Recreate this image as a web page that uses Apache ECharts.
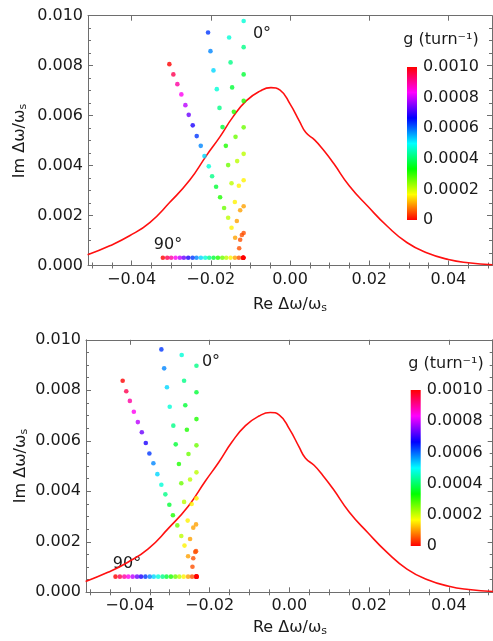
<!DOCTYPE html>
<html><head><meta charset="utf-8">
<script src="https://cdn.jsdelivr.net/npm/echarts@6/dist/echarts.min.js"></script>
<style>html,body{margin:0;padding:0;background:#fff}#c{width:493px;height:641px}</style>
</head><body><div id="c"></div>
<script>
// coupling strength g (turn^-1) of successive points of every series
const gSteps = [0, 0.0000526, 0.0001053, 0.0001579, 0.0002105, 0.0002632, 0.0003158, 0.0003684, 0.0004211, 0.0004737,
  0.0005263, 0.0005789, 0.0006316, 0.0006842, 0.0007368, 0.0007895, 0.0008421, 0.0008947, 0.0009474, 0.0010];

// top panel: [Re, Im] of each point
const topDeg0 = [[-0.0118,0.00031],[-0.0117,0.00130],[-0.0117,0.00237],[-0.0117,0.00341],[-0.0117,0.00447],
  [-0.0117,0.00553],[-0.0117,0.00659],[-0.0117,0.00765],[-0.0117,0.00874],[-0.0117,0.00979]];
const topDegB = [[-0.0118,0.00031],[-0.01215,0.00122],[-0.01258,0.00221],[-0.01291,0.00319],[-0.01334,0.00418],
  [-0.01375,0.00515],[-0.01418,0.00615],[-0.01461,0.00713],[-0.01501,0.00813],[-0.01537,0.00913]];
const topDegC = [[-0.0118,0.00031],[-0.01258,0.00103],[-0.01342,0.00178],[-0.01392,0.00254],[-0.01476,0.00329],
  [-0.01562,0.00402],[-0.01620,0.00479],[-0.01704,0.00554],[-0.01780,0.00631],[-0.01848,0.00706],
  [-0.01932,0.00781],[-0.02008,0.00858],[-0.02069,0.00933]];
const topDegD = [[-0.0118,0.00031],[-0.01283,0.00069],[-0.01385,0.00111],[-0.01476,0.00151],[-0.01562,0.00191],
  [-0.01664,0.00230],[-0.01765,0.00273],[-0.01866,0.00315],[-0.01967,0.00357],[-0.02051,0.00397],
  [-0.02160,0.00438],[-0.02253,0.00479],[-0.02355,0.00518],[-0.02456,0.00561],[-0.02557,0.00603],
  [-0.02641,0.00642],[-0.02743,0.00685],[-0.02844,0.00726],[-0.02945,0.00765],[-0.03046,0.00806]];
const topDeg90 = [[-0.0118,0.00031],[-0.0129,0.00031],[-0.0139,0.00031],[-0.0150,0.00031],[-0.0161,0.00031],
  [-0.0171,0.00031],[-0.0182,0.00031],[-0.0193,0.00031],[-0.0204,0.00031],[-0.0214,0.00031],
  [-0.0225,0.00031],[-0.0236,0.00031],[-0.0246,0.00031],[-0.0257,0.00031],[-0.0268,0.00031],
  [-0.0278,0.00031],[-0.0289,0.00031],[-0.0300,0.00031],[-0.0310,0.00031],[-0.0321,0.00031]];

// bottom panel
const botDeg0 = [[-0.0233,0.00062],[-0.0234,0.00163],[-0.0234,0.00269],[-0.0233,0.00372],[-0.0233,0.00475],
  [-0.0233,0.00582],[-0.0233,0.00686],[-0.0233,0.00792],[-0.0233,0.00897]];
const botDegB = [[-0.0233,0.00062],[-0.0236,0.00160],[-0.0241,0.00256],[-0.0245,0.00350],[-0.0249,0.00447],
  [-0.0253,0.00548],[-0.0257,0.00644],[-0.0261,0.00741],[-0.0264,0.00838],[-0.0270,0.00940]];
const botDegC = [[-0.0233,0.00062],[-0.0241,0.00135],[-0.0249,0.00211],[-0.0255,0.00284],[-0.0264,0.00358],
  [-0.0271,0.00432],[-0.0277,0.00508],[-0.0285,0.00586],[-0.0291,0.00660],[-0.0300,0.00735],
  [-0.0307,0.00812],[-0.0314,0.00887],[-0.0321,0.00962]];
const botDegD = [[-0.0233,0.00062],[-0.0243,0.00101],[-0.0254,0.00143],[-0.0263,0.00185],[-0.0271,0.00223],
  [-0.0281,0.00265],[-0.0292,0.00305],[-0.0301,0.00347],[-0.0311,0.00388],[-0.0321,0.00426],
  [-0.0331,0.00468],[-0.0341,0.00511],[-0.0351,0.00550],[-0.0360,0.00591],[-0.0370,0.00634],
  [-0.0380,0.00674],[-0.0390,0.00715],[-0.0400,0.00758],[-0.0409,0.00796],[-0.0418,0.00838]];
const botDeg90 = [[-0.0233,0.00062],[-0.0244,0.00062],[-0.0254,0.00062],[-0.0265,0.00062],[-0.0276,0.00062],
  [-0.0286,0.00062],[-0.0297,0.00062],[-0.0308,0.00062],[-0.0318,0.00062],[-0.0329,0.00062],
  [-0.0340,0.00062],[-0.0350,0.00062],[-0.0361,0.00062],[-0.0372,0.00062],[-0.0382,0.00062],
  [-0.0393,0.00062],[-0.0404,0.00062],[-0.0414,0.00062],[-0.0425,0.00062],[-0.0436,0.00062]];

// red threshold curve (same in both panels)
const curveRe = [-0.0511,-0.0455,-0.0405,-0.0354,-0.0304,-0.0253,-0.0211,-0.0177,-0.0144,-0.0110,-0.0076,-0.0048,-0.0025,
  0.0000,0.0024,0.0040,0.0062,0.0084,0.0110,0.0150,0.0197,0.0245,0.0295,0.0345,0.0400,0.0450,0.0511];
const curveIm = [0.00043,0.00079,0.00119,0.00172,0.00252,0.00342,0.00440,0.00515,0.00595,0.00660,0.00698,0.00712,0.00702,
  0.00647,0.00577,0.00532,0.00503,0.00463,0.00409,0.00318,0.00236,0.00158,0.00092,0.00051,0.00024,0.00011,0.00003];

const xMajorTicks = [-0.04,-0.02,0,0.02,0.04];
const xMinorTicks = [-0.05,-0.045,-0.035,-0.03,-0.025,-0.015,-0.01,-0.005,0.005,0.01,0.015,0.025,0.03,0.035,0.045,0.05];
const hueColors = ['#ff0000','#ffff00','#00ff00','#00ffff','#0000ff','#ff00ff','#ff0000'];

const FONT = 'DejaVu Sans';
const TXT = '#1a1a1a';
const FRAME = '#6e6e6e';

const panels = [
  {grid:{left:88, top:15.7, width:404, height:249.8}, cbar:{left:407, top:67, width:10, height:153},
   pts:[topDeg0, topDegB, topDegC, topDegD, topDeg90]},
  {grid:{left:86, top:339.8, width:406.7, height:252.5}, cbar:{left:410.7, top:390, width:10, height:156},
   pts:[botDeg0, botDegB, botDegC, botDegD, botDeg90]}
];

const grids = [], xAxes = [], yAxes = [], series = [], scatterIdx = [];
const xFmt = v => { const s = Math.abs(v).toFixed(2); return v < -1e-9 ? '\u2212' + s : s; };

panels.forEach(p => grids.push(Object.assign({outerBoundsMode:'none', containLabel:false}, p.grid)));
panels.forEach(p => grids.push(Object.assign({outerBoundsMode:'none', containLabel:false}, p.cbar)));

panels.forEach((p, i) => {
  const base = {gridIndex:i, type:'value', min:-0.051, max:0.051, splitLine:{show:false}};
  xAxes.push(Object.assign({}, base, {position:'bottom',
    axisLine:{show:true, onZero:false, lineStyle:{color:FRAME, width:1}},
    axisTick:{show:true, inside:true, length:5, customValues:xMajorTicks, lineStyle:{color:FRAME}},
    axisLabel:{show:true, customValues:xMajorTicks, formatter:xFmt, margin:6, fontSize:16, color:TXT, fontFamily:FONT}}));
  xAxes.push(Object.assign({}, base, {position:'bottom',
    axisLine:{show:false}, axisLabel:{show:false},
    axisTick:{show:true, inside:true, length:3, customValues:xMinorTicks, lineStyle:{color:FRAME}}}));
  xAxes.push(Object.assign({}, base, {position:'top',
    axisLine:{show:true, onZero:false, lineStyle:{color:FRAME, width:1}}, axisLabel:{show:false},
    axisTick:{show:true, inside:true, length:5, customValues:xMajorTicks, lineStyle:{color:FRAME}}}));
  xAxes.push(Object.assign({}, base, {position:'top',
    axisLine:{show:false}, axisLabel:{show:false},
    axisTick:{show:true, inside:true, length:3, customValues:xMinorTicks, lineStyle:{color:FRAME}}}));

  const ybase = {gridIndex:i, type:'value', min:0, max:0.01, interval:0.002, splitLine:{show:false},
    axisLine:{show:true, onZero:false, lineStyle:{color:FRAME, width:1}},
    axisTick:{show:true, inside:true, length:5, lineStyle:{color:FRAME}},
    minorTick:{show:true, splitNumber:4, length:3, lineStyle:{color:FRAME}}, minorSplitLine:{show:false}};
  yAxes.push(Object.assign({}, ybase, {position:'left',
    axisLabel:{formatter:v => v.toFixed(3), margin:5, fontSize:16, color:TXT, fontFamily:FONT}}));
  yAxes.push(Object.assign({}, ybase, {position:'right', axisLabel:{show:false}}));
});

panels.forEach((p, i) => {
  xAxes.push({gridIndex:2+i, type:'category', data:['g'], show:false});
  yAxes.push({gridIndex:2+i, type:'value', min:0, max:0.001, interval:0.0002, position:'right',
    axisLine:{show:false}, axisTick:{show:false}, splitLine:{show:false},
    axisLabel:{margin:6, fontSize:16, color:TXT, fontFamily:FONT,
      formatter:v => (Math.abs(v) < 1e-12 ? '0' : v.toFixed(4))}});
});

// curves
panels.forEach((p, i) => {
  series.push({type:'line', xAxisIndex:4*i, yAxisIndex:2*i, symbol:'none', smooth:0.5,
    data:curveRe.map((x, k) => [x, curveIm[k]]),
    lineStyle:{color:'#ff1010', width:1.6}, silent:true, z:2});
});
// points
panels.forEach((p, i) => {
  p.pts.forEach(arr => {
    scatterIdx.push(series.length);
    series.push({type:'scatter', xAxisIndex:4*i, yAxisIndex:2*i, symbol:'circle', symbolSize:4.6,
      data:arr.map((pt, k) => [pt[0], pt[1], gSteps[k]]), silent:true, z:3});
  });
});
// colour bars
panels.forEach((p, i) => {
  series.push({type:'bar', xAxisIndex:8+i, yAxisIndex:4+i, data:[0.001], barWidth:'100%', silent:true,
    itemStyle:{color:{type:'linear', x:0, y:1, x2:0, y2:0,
      colorStops:hueColors.map((c, k) => ({offset:k/(hueColors.length-1), color:c}))}}});
});

const sub = {fontSize:11, fontFamily:FONT, color:TXT, padding:[7,0,0,0]};
const main = {fontSize:16, fontFamily:FONT, color:TXT};
function axTitle(x, y, text, rot) {
  return {type:'text', x:x, y:y, rotation:rot || 0, silent:true,
    style:{text:text, rich:{m:main, s:sub}, align:'center', verticalAlign:'middle', fill:TXT}};
}
function plainText(x, y, text) {
  return {type:'text', x:x, y:y, silent:true,
    style:{text:text, fontSize:16, fontFamily:FONT, fill:TXT, align:'center', verticalAlign:'middle'}};
}
const graphics = [
  axTitle(290, 305, '{m|Re \u0394\u03c9/\u03c9}{s|s}'),
  axTitle(290, 628, '{m|Re \u0394\u03c9/\u03c9}{s|s}'),
  axTitle(20, 141, '{m|Im \u0394\u03c9/\u03c9}{s|s}', Math.PI/2),
  axTitle(21, 466, '{m|Im \u0394\u03c9/\u03c9}{s|s}', Math.PI/2),
  plainText(441, 40, 'g (turn\u207b\u00b9)'),
  plainText(446, 364, 'g (turn\u207b\u00b9)'),
  plainText(262, 34, '0\u00b0'),
  plainText(211, 362, '0\u00b0'),
  plainText(168, 245, '90\u00b0'),
  plainText(127, 564, '90\u00b0')
];

const chart = echarts.init(document.getElementById('c'), null, {renderer:'canvas'});
chart.setOption({
  animation:false,
  backgroundColor:'#ffffff',
  textStyle:{fontFamily:FONT},
  grid:grids, xAxis:xAxes, yAxis:yAxes,
  visualMap:[{type:'continuous', show:false, min:0, max:0.001, dimension:2, seriesIndex:scatterIdx,
    inRange:{color:hueColors}}],
  series:series,
  graphic:graphics
});
</script></body></html>
